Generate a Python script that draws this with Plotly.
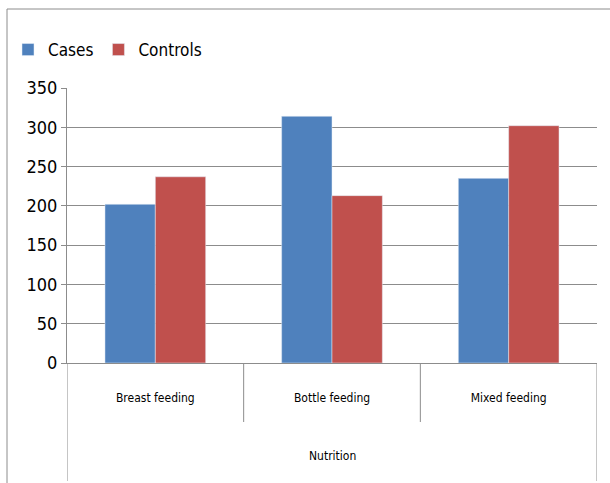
import plotly.graph_objects as go

categories = ["Breast feeding", "Bottle feeding", "Mixed feeding"]
outer_label = "Nutrition"
cases = [202, 314, 235]
controls = [237, 213, 302]
y_ticks = [0, 50, 100, 150, 200, 250, 300, 350]

FONT = "DejaVu Sans Condensed, Liberation Sans Narrow, sans-serif"
GRID = "#8c8c8c"

# pixel geometry helpers (plot area: x 67..597, y 88..363)
def py(pixel_y):
    return (363 - pixel_y) / 275

def px(pixel_x):
    return (pixel_x - 67) / 530

fig = go.Figure()
fig.add_trace(go.Bar(name="Cases", x=categories, y=cases, marker_color="#4F81BD"))
fig.add_trace(go.Bar(name="Controls", x=categories, y=controls, marker_color="#C0504D"))

fig.update_layout(
    width=610, height=483,
    margin=dict(l=67, r=13, t=88, b=120, autoexpand=False),
    paper_bgcolor="white", plot_bgcolor="white",
    barmode="group", bargap=0.43, bargroupgap=0,
    font=dict(family=FONT, color="#000000"),
    legend=dict(orientation="h", x=px(8), y=py(50), xanchor="left", yanchor="middle",
                font=dict(size=17, family=FONT), itemwidth=30, tracegroupgap=0,
                bgcolor="rgba(0,0,0,0)"),
    showlegend=True,
)
fig.update_yaxes(range=[0, 350], tickvals=y_ticks, showgrid=True, gridcolor=GRID, gridwidth=1,
                 showline=True, linecolor=GRID, ticks="outside", ticklen=5, tickcolor=GRID,
                 tickfont=dict(size=18, family=FONT), zeroline=False)
fig.update_xaxes(showline=True, linecolor=GRID, ticks="", ticklabelstandoff=24,
                 tickfont=dict(size=12, family=FONT), range=[-0.5, 2.5])

# category dividers below the axis
for xv, bottom in [(-0.5, 481), (0.5, 422), (1.5, 422), (2.5, 481)]:
    fig.add_shape(type="line", xref="x", yref="paper", x0=xv, x1=xv, y0=0, y1=py(bottom),
                  line=dict(color=GRID, width=1))

fig.add_annotation(text=outer_label, xref="x", yref="paper", x=1, y=py(456),
                   showarrow=False, font=dict(size=12, family=FONT), yanchor="middle")

# chart frame (top and left edges only are visible)
fig.add_shape(type="line", xref="paper", yref="paper", x0=px(7), x1=px(640), y0=py(9), y1=py(9),
              line=dict(color=GRID, width=1), layer="below")
fig.add_shape(type="line", xref="paper", yref="paper", x0=px(7), x1=px(7), y0=py(9), y1=py(510),
              line=dict(color=GRID, width=1), layer="below")

fig.write_html("out.html")
